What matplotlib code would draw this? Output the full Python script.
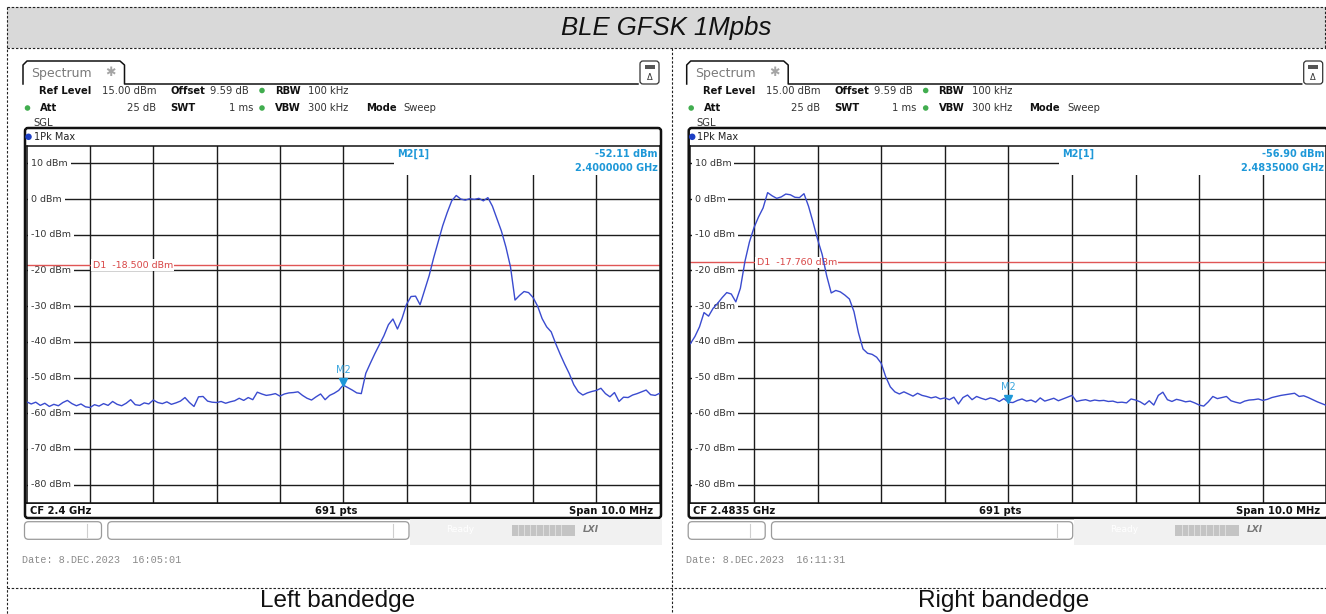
import numpy as np
import matplotlib
matplotlib.use("Agg")
import matplotlib.pyplot as plt
from matplotlib.patches import Rectangle, FancyBboxPatch

W, H = 1326, 614

# ---------------- data ----------------
title = "BLE GFSK 1Mpbs"
captions = ["Left bandedge", "Right bandedge"]
center_freqs_ghz = [2.4, 2.4835]
cf_labels = ["CF 2.4 GHz", "CF 2.4835 GHz"]
dates = ["Date: 8.DEC.2023  16:05:01", "Date: 8.DEC.2023  16:11:31"]
span_mhz = 10.0
n_points = 141
ref_level = 15.0
y_ticks = [10, 0, -10, -20, -30, -40, -50, -60, -70, -80]
d1_levels = [-18.5, -17.76]
m2_values = [-52.11, -56.90]
m2_freq_labels = ["2.4000000 GHz", "2.4835000 GHz"]

left_trace = [
    -56.8, -57.4, -56.9, -57.8, -57.2, -58.1, -57.5, -57.9, -57.0, -56.4,
    -57.3, -57.9, -57.4, -58.2, -58.4, -57.6, -58.0, -57.3, -57.8, -56.7,
    -57.5, -57.9, -57.2, -56.2, -57.6, -57.8, -57.1, -57.4, -56.3, -57.0,
    -57.3, -56.8, -57.5, -57.1, -56.6, -55.6, -57.0, -58.1, -55.4, -55.3,
    -56.6, -56.9, -57.0, -56.7, -57.2, -56.8, -56.5, -55.8, -56.4, -55.6,
    -56.2, -54.1, -54.6, -55.0, -54.8, -54.5, -55.2, -54.6, -54.3, -54.2,
    -54.0, -55.0, -55.8, -56.3, -55.4, -54.6, -56.2, -55.0, -54.4, -53.6,
    -52.11, -52.8, -53.5, -54.3, -54.5, -48.8, -46.0, -43.3, -40.8, -38.3,
    -35.2, -33.6, -36.4, -33.5, -29.5, -27.3, -27.2, -29.6, -25.5, -21.5,
    -16.5, -12.0, -7.5, -3.8, -0.5, 1.0, 0.0, -0.3, 0.1, -0.1,
    0.2, -0.5, 0.4, -2.0, -5.5, -9.0, -13.5, -19.0, -28.3, -27.0,
    -25.9, -26.2, -27.6, -30.0, -33.5, -35.8, -37.2, -40.5, -43.5, -46.3,
    -48.9, -52.0, -54.0, -54.9, -54.3, -53.9, -53.6, -53.0, -54.5, -55.4,
    -54.2, -56.7, -55.5, -55.6, -54.9, -54.5, -54.0, -53.5, -54.8, -55.0,
    -54.4,
]

right_trace = [
    -40.5, -38.5, -35.8, -31.8, -32.8, -30.6, -29.2, -27.6, -26.2, -26.6,
    -28.8, -25.0, -17.5, -12.0, -8.0, -5.0, -2.5, 1.8, 0.9, 0.2,
    0.6, 1.4, 1.2, 0.5, 0.4, 1.5, -2.0, -6.5, -11.3, -15.5,
    -21.5, -26.3, -25.6, -26.0, -26.9, -28.0, -31.5, -37.5, -42.0, -43.2,
    -43.5, -44.3, -46.0, -49.8, -52.6, -54.0, -54.6, -54.0, -54.6, -55.2,
    -54.4, -55.0, -55.3, -55.7, -55.4, -56.0, -55.7, -56.2, -55.5, -57.4,
    -55.6, -54.9, -56.2, -55.3, -55.8, -56.2, -55.7, -56.0, -56.7, -55.9,
    -56.90, -57.0, -56.4, -56.0, -56.6, -56.3, -56.9, -55.7, -56.6, -56.2,
    -55.8, -56.5, -56.0, -55.5, -55.0, -56.7, -56.4, -56.2, -56.6, -56.3,
    -56.5, -56.4, -56.7, -56.6, -57.0, -56.9, -57.1, -56.0, -56.3, -56.8,
    -57.6, -56.5, -57.7, -55.0, -54.1, -56.2, -56.7, -56.1, -56.4, -56.8,
    -56.6, -57.1, -57.7, -58.0, -56.8, -55.3, -55.9, -55.6, -55.3, -56.5,
    -56.9, -57.2, -56.6, -56.3, -56.2, -56.0, -56.4, -56.1, -55.6, -55.3,
    -55.0, -54.8, -54.6, -54.4, -55.3, -55.1, -55.6, -56.2, -56.8, -57.3,
    -57.8,
]
traces = [left_trace, right_trace]

# ---------------- styling ----------------
TRACE_C = "#3a4bcf"
D1_C = "#e05555"
MK_C = "#1e98d8"
GRID_C = "#1c1c1c"
GREEN = "#41ad4f"

fig = plt.figure(figsize=(W / 100, H / 100), dpi=100)
bg = fig.add_axes([0, 0, 1, 1])
bg.set_xlim(0, W)
bg.set_ylim(H, 0)
bg.axis("off")

# table frame
bg.add_patch(Rectangle((7, 7), W - 7, 41, facecolor="#d9d9d9", edgecolor="none"))
dash = dict(color="#222222", lw=0.8, dashes=(2.2, 1.6))
bg.plot([7, W], [7, 7], **dash)
bg.plot([7, W], [48, 48], **dash)
bg.plot([7, W], [587.5, 587.5], **dash)
bg.plot([7, 7], [7, H], **dash)
bg.plot([W - 1, W - 1], [7, 48], **dash)
bg.plot([672, 672], [48, H], **dash)
bg.text(666, 28.5, title, fontsize=18.5, fontstyle="italic",
        family="Liberation Sans", ha="center", va="center", color="#111111")

caption_x = [338, 1004]


def draw_panel(idx, x0, gw):
    cf = center_freqs_ghz[idx]
    trace = traces[idx]
    hdr = dict(fontsize=7.2, va="center", family="DejaVu Sans")
    # tab
    bg.plot([x0 + 23, x0 + 23, x0 + 27, x0 + 120, x0 + 124.5, x0 + 124.5, x0 + 638],
            [84, 65, 61, 61, 65, 84, 84], color="#111111", lw=1.1)
    bg.text(x0 + 31.5, 73.5, "Spectrum", fontsize=9, color="#7a7a7a", va="center")
    bg.text(x0 + 110.5, 73, "\u2731", fontsize=9, color="#a5a5a5", va="center", ha="center")
    # top-right icon
    bg.add_patch(FancyBboxPatch((x0 + 640, 61), 19, 23, boxstyle="round,pad=0,rounding_size=3",
                                facecolor="white", edgecolor="#333333", lw=0.9))
    bg.add_patch(Rectangle((x0 + 644.5, 64.5), 10, 4.5, facecolor="#555555", edgecolor="none"))
    bg.text(x0 + 649.5, 77.5, "\u0394", fontsize=6, ha="center", va="center", color="#333333")
    # header rows
    r1, r2, r3 = 90.5, 108.0, 122.5
    bg.text(x0 + 39.3, r1, "Ref Level", fontweight="bold", color="#111111", **hdr)
    bg.text(x0 + 156.5, r1, "15.00 dBm", color="#333333", ha="right", **hdr)
    bg.text(x0 + 170.4, r1, "Offset", fontweight="bold", color="#111111", **hdr)
    bg.text(x0 + 210.0, r1, "9.59 dB", color="#333333", **hdr)
    bg.text(x0 + 274.8, r1, "RBW", fontweight="bold", color="#111111", **hdr)
    bg.text(x0 + 307.8, r1, "100 kHz", color="#333333", **hdr)
    bg.text(x0 + 40.2, r2, "Att", fontweight="bold", color="#111111", **hdr)
    bg.text(x0 + 156.5, r2, "25 dB", color="#333333", ha="right", **hdr)
    bg.text(x0 + 170.4, r2, "SWT", fontweight="bold", color="#111111", **hdr)
    bg.text(x0 + 253.0, r2, "1 ms", color="#333333", ha="right", **hdr)
    bg.text(x0 + 274.8, r2, "VBW", fontweight="bold", color="#111111", **hdr)
    bg.text(x0 + 307.8, r2, "300 kHz", color="#333333", **hdr)
    bg.text(x0 + 365.8, r2, "Mode", fontweight="bold", color="#111111", **hdr)
    bg.text(x0 + 403.8, r2, "Sweep", color="#333333", **hdr)
    bg.text(x0 + 33.0, r3, "SGL", color="#333333", **hdr)
    bg.scatter([x0 + 262, x0 + 27.5, x0 + 262], [r1, r2, r2], s=16, color=GREEN,
               edgecolors="none", zorder=3)
    # instrument frame
    bg.add_patch(FancyBboxPatch((x0 + 25, 128), 636 if idx == 0 else 639, 390,
                                boxstyle="round,pad=0,rounding_size=3",
                                facecolor="white", edgecolor="#111111", lw=1.8))
    bg.scatter([x0 + 28.5], [136.8], s=22, color="#1d3fc4", edgecolors="none", zorder=3)
    bg.text(x0 + 33.5, 136.8, "1Pk Max", fontsize=7, va="center", color="#222222")
    # CF row
    bg.plot([x0 + 25, x0 + 25 + gw + 2], [502.5, 502.5], color="#111111", lw=1.2)
    bg.text(x0 + 29.6, 510.5, cf_labels[idx], fontsize=7.2, fontweight="bold",
            va="center", color="#111111")
    bg.text(x0 + 336, 510.5, "691 pts", fontsize=7.2, fontweight="bold", va="center",
            ha="center", color="#111111")
    bg.text(x0 + 25 + gw - 5, 510.5, "Span 10.0 MHz", fontsize=7.2, fontweight="bold",
            va="center", ha="right", color="#111111")
    # status bar
    bg.add_patch(Rectangle((x0 + 410, 519), 252, 26, facecolor="#f1f1f1", edgecolor="none"))
    bg.add_patch(FancyBboxPatch((x0 + 24.5, 521.7), 77, 17.6, boxstyle="round,pad=0,rounding_size=4",
                                facecolor="white", edgecolor="#9a9a9a", lw=0.9))
    bg.plot([x0 + 86.7, x0 + 86.7], [524, 537], color="#cfcfcf", lw=0.8)
    bg.add_patch(FancyBboxPatch((x0 + 107.8, 521.7), 301.2, 17.6, boxstyle="round,pad=0,rounding_size=4",
                                facecolor="white", edgecolor="#9a9a9a", lw=0.9))
    bg.plot([x0 + 393, x0 + 393], [524, 537], color="#cfcfcf", lw=0.8)
    bg.text(x0 + 460, 530, "Ready", fontsize=6.5, color="white", ha="center", va="center")
    bg.add_patch(Rectangle((x0 + 511.6, 524.5), 63.4, 11, facecolor="#c4c4c4", edgecolor="none"))
    for k in range(1, 9):
        xx = x0 + 511.6 + k * 6.2
        bg.plot([xx, xx], [525, 535], color="#e4e4e4", lw=0.6)
    bg.text(x0 + 591, 530, "LXI", fontsize=6.5, fontweight="bold", fontstyle="italic",
            color="#777777", ha="center", va="center")
    # date
    bg.text(x0 + 22, 560, dates[idx], fontsize=7.3, family="Liberation Mono",
            color="#8a8a8a", va="center")
    # caption
    bg.text(caption_x[idx], 601.5, captions[idx], fontsize=17.5, family="Liberation Sans",
            ha="center", va="center", color="#111111")

    # ---------- spectrum grid axes ----------
    gx0 = 26.7 + x0
    gy0, gy1 = 145.5, 502.5
    ax = fig.add_axes([gx0 / W, 1 - gy1 / H, gw / W, (gy1 - gy0) / H])
    half = span_mhz / 2000.0
    ax.set_xlim(cf - half, cf + half)
    ax.set_ylim(ref_level - 100, ref_level)
    ax.set_xticks([])
    ax.set_yticks([])
    for s in ax.spines.values():
        s.set_color("#111111")
        s.set_linewidth(1.1)
    for k in range(1, 10):
        ax.axvline(cf - half + k * span_mhz / 10000.0, color=GRID_C, lw=1.0, zorder=1)
    for yv in y_ticks:
        ax.axhline(yv, color=GRID_C, lw=1.0, zorder=1)
        ax.text(0.007, yv, f"{yv} dBm", transform=ax.get_yaxis_transform(), fontsize=6.8,
                color="#333333", va="center", ha="left", zorder=2,
                bbox=dict(facecolor="white", edgecolor="none", pad=2.2))
    # marker info box
    box_top = 1 - (175 - gy0) / (gy1 - gy0)
    ax.add_patch(Rectangle((0.58, box_top), 0.43, 1 - box_top + 0.01, transform=ax.transAxes,
                           facecolor="white", edgecolor="none", zorder=1.5))
    ax.text(0.585, 1 - (154 - gy0) / (gy1 - gy0), "M2[1]", transform=ax.transAxes,
            fontsize=7, fontweight="bold", color=MK_C, va="center", ha="left", zorder=2)
    ax.text(0.997, 1 - (154 - gy0) / (gy1 - gy0), f"{m2_values[idx]:.2f} dBm",
            transform=ax.transAxes, fontsize=7, fontweight="bold", color=MK_C,
            va="center", ha="right", zorder=2)
    ax.text(0.997, 1 - (167.7 - gy0) / (gy1 - gy0), m2_freq_labels[idx],
            transform=ax.transAxes, fontsize=7, fontweight="bold", color=MK_C,
            va="center", ha="right", zorder=2)
    # display line D1
    d1 = d1_levels[idx]
    ax.axhline(d1, color=D1_C, lw=1.0, zorder=2.5)
    ax.text(0.104, d1, f"D1  {d1:.3f} dBm", transform=ax.get_yaxis_transform(),
            fontsize=6.8, color="#d84646", va="center", ha="left", zorder=2.6,
            bbox=dict(facecolor="white", edgecolor="none", pad=0.8))
    # trace
    freqs = cf + np.linspace(-half, half, n_points)
    ax.plot(freqs, trace, color=TRACE_C, lw=1.0, zorder=3)
    # marker M2
    ax.plot([cf], [m2_values[idx] + 1.0], marker="v", ms=5.5, color=MK_C, zorder=4,
            linestyle="none")
    ax.text(cf, m2_values[idx] + 4.2, "M2", fontsize=7, color="#3aa6de", ha="center",
            va="center", zorder=4)
    return ax


draw_panel(0, 0.0, 633.0)
draw_panel(1, 663.7, 636.0)

fig.savefig("out.png", dpi=100)
